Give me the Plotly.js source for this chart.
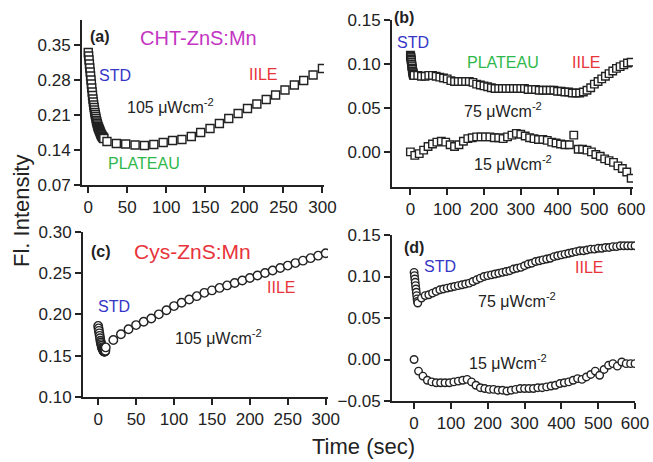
<!DOCTYPE html>
<html>
<head>
<meta charset="utf-8">
<script src="https://cdn.plot.ly/plotly-3.0.1.min.js"></script>
<style>html,body{margin:0;padding:0;background:#fff;}#chart{width:653px;height:462px;}</style>
</head>
<body>
<div id="chart"></div>
<script>
// Panel (a) CHT-ZnS:Mn, 105 uW/cm2
const tA = [0,0.5,1,1.5,2,2.5,3,3.5,4,4.5,5,5.5,6,6.5,7,7.5,8,8.5,9,9.5,
  10,10.5,11,11.5,12,12.5,13,13.5,14,14.5,15,15.5,16,16.5,17,17.5,18,18.5,19,19.5,20,
  24,36,48,60,72,84,96,108,120,132,144,156,168,180,192,204,216,228,240,252,264,276,288,300];
const vA = [0.335,0.328,0.320,0.312,0.304,0.296,0.288,0.280,0.272,0.264,0.256,0.249,0.242,0.236,0.230,0.225,0.220,0.215,0.211,0.207,
  0.203,0.199,0.196,0.193,0.190,0.187,0.185,0.183,0.181,0.179,0.177,0.175,0.173,0.171,0.170,0.168,0.167,0.166,0.165,0.164,0.163,
  0.157,0.153,0.152,0.150,0.149,0.151,0.155,0.159,0.161,0.167,0.175,0.183,0.193,0.203,0.213,0.223,0.232,0.241,0.250,0.260,0.270,0.279,0.290,0.303];

// Panel (b) CHT-ZnS:Mn, 75 and 15 uW/cm2
const tB75 = [0,0.5,1,1.5,2,2.5,3,3.5,4,4.5,5,5.5,6,6.5,7,7.5,8,8.5,9,9.5,
  10,20,30,40,50,60,70,80,90,100,110,120,130,140,150,160,170,180,190,200,
  210,220,230,240,250,260,270,280,290,300,310,320,330,340,350,360,370,380,390,400,
  410,420,430,440,450,460,470,480,490,500,510,520,530,540,550,560,570,580,590,600];
const vB75 = [0.110,0.109,0.108,0.107,0.105,0.104,0.102,0.100,0.098,0.097,0.095,0.094,0.092,0.091,0.090,0.089,0.088,0.088,0.087,0.087,
  0.087,0.087,0.086,0.086,0.087,0.087,0.086,0.085,0.084,0.083,
  0.081,0.080,0.080,0.080,0.080,0.080,0.079,0.077,0.076,0.075,
  0.074,0.073,0.072,0.072,0.072,0.072,0.072,0.072,0.072,0.072,
  0.072,0.071,0.071,0.071,0.070,0.070,0.070,0.070,0.070,0.069,
  0.069,0.068,0.068,0.067,0.067,0.067,0.068,0.070,0.073,0.077,
  0.080,0.083,0.086,0.089,0.092,0.095,0.097,0.099,0.101,0.102];
const tB15 = [0,12,24,36,48,60,72,84,96,108,120,132,144,156,168,180,192,204,216,228,
  240,252,264,276,288,300,312,324,336,348,360,372,384,396,408,420,432,444,456,468,
  480,492,504,516,528,540,552,564,576,588,600];
const vB15 = [0.000,-0.004,-0.002,0.002,0.006,0.009,0.011,0.012,0.011,0.008,
  0.006,0.008,0.012,0.015,0.016,0.017,0.017,0.017,0.017,0.016,
  0.016,0.015,0.017,0.019,0.021,0.020,0.018,0.016,0.015,0.014,
  0.014,0.013,0.011,0.010,0.009,0.008,0.008,0.019,0.003,0.003,
  0.002,0.000,-0.003,-0.005,-0.008,-0.010,-0.012,-0.016,-0.019,-0.023,-0.030];

// Panel (c) Cys-ZnS:Mn, 105 uW/cm2
const tC = [0,0.5,1,1.5,2,2.5,3,3.5,4,4.5,5,5.5,6,6.5,7,7.5,8,8.5,9,9.5,
  10,20,30,40,50,60,70,80,90,100,110,120,130,140,150,160,170,180,190,200,
  210,220,230,240,250,260,270,280,290,300];
const vC = [0.186,0.183,0.180,0.177,0.174,0.171,0.168,0.166,0.164,0.162,0.160,0.159,0.158,0.157,0.156,0.155,0.155,0.155,0.155,0.156,
  0.160,0.169,0.176,0.182,0.187,0.191,0.195,0.200,0.205,0.210,
  0.214,0.218,0.222,0.226,0.229,0.232,0.235,0.238,0.241,0.244,
  0.247,0.250,0.253,0.256,0.259,0.262,0.265,0.268,0.271,0.274];

// Panel (d) Cys-ZnS:Mn, 75 and 15 uW/cm2
const tD75 = [0,1,2,3,4,5,6,7,8,9,
  10,20,30,40,50,60,70,80,90,100,110,120,130,140,150,160,170,180,190,200,
  210,220,230,240,250,260,270,280,290,300,310,320,330,340,350,360,370,380,390,400,
  410,420,430,440,450,460,470,480,490,500,510,520,530,540,550,560,570,580,590,600];
const vD75 = [0.105,0.101,0.097,0.093,0.089,0.085,0.081,0.077,0.073,0.070,
  0.068,0.074,0.077,0.078,0.080,0.082,0.084,0.085,0.086,0.087,
  0.088,0.089,0.090,0.091,0.092,0.094,0.096,0.098,0.100,0.101,
  0.102,0.103,0.104,0.105,0.106,0.107,0.109,0.110,0.111,0.113,
  0.115,0.116,0.118,0.119,0.120,0.121,0.122,0.124,0.125,0.126,
  0.127,0.128,0.129,0.130,0.131,0.131,0.132,0.133,0.133,0.134,
  0.134,0.135,0.135,0.136,0.136,0.137,0.137,0.137,0.137,0.137];
const tD15 = [0,12,24,36,48,60,72,84,96,108,120,132,144,156,168,180,192,204,216,228,
  240,252,264,276,288,300,312,324,336,348,360,372,384,396,408,420,432,444,456,468,
  480,492,504,516,528,540,552,564,576,588,600];
const vD15 = [0.000,-0.014,-0.020,-0.025,-0.027,-0.028,-0.028,-0.028,-0.028,-0.027,
  -0.026,-0.025,-0.024,-0.027,-0.031,-0.034,-0.035,-0.036,-0.036,-0.037,
  -0.037,-0.038,-0.037,-0.036,-0.035,-0.035,-0.035,-0.035,-0.034,-0.034,
  -0.033,-0.032,-0.031,-0.029,-0.028,-0.027,-0.025,-0.023,-0.024,-0.021,
  -0.018,-0.014,-0.019,-0.012,-0.007,-0.005,-0.008,-0.003,-0.005,-0.005,-0.005];

const W = 653, H = 462;
const INK = '#222';
const FONT = 'Liberation Sans, Arial, sans-serif';

function mk(sym, size) {
  return {symbol: sym, size: size, color: '#fff', line: {color: INK, width: 1.4}};
}
const traces = [
  {x: tA, y: vA, xaxis: 'x', yaxis: 'y', mode: 'markers', marker: mk('square', 8)},
  {x: tB75, y: vB75, xaxis: 'x2', yaxis: 'y2', mode: 'markers', marker: mk('square', 7.5)},
  {x: tB15, y: vB15, xaxis: 'x2', yaxis: 'y2', mode: 'markers', marker: mk('square', 7.5)},
  {x: tC, y: vC, xaxis: 'x3', yaxis: 'y3', mode: 'markers', marker: mk('circle', 8.5)},
  {x: tD75, y: vD75, xaxis: 'x4', yaxis: 'y4', mode: 'markers', marker: mk('circle', 7.5)},
  {x: tD15, y: vD15, xaxis: 'x4', yaxis: 'y4', mode: 'markers', marker: mk('circle', 7.5)}
];

function ax(px0, px1, range, dtick, fmt, anchor, vertical) {
  const dom = vertical ? [1 - px1 / H, 1 - px0 / H] : [px0 / W, px1 / W];
  return {
    domain: dom, range: range, tickmode: 'linear', tick0: 0, dtick: dtick,
    anchor: anchor, showline: true, linecolor: INK, linewidth: 2,
    ticks: 'outside', ticklen: 6, tickwidth: 2, tickcolor: INK,
    showgrid: false, zeroline: false, tickformat: fmt, fixedrange: true,
    tickfont: {family: FONT, size: 17, color: INK}
  };
}

function ann(text, px, py, color, size, opts) {
  return Object.assign({
    text: text, x: px / W, y: 1 - py / H, xref: 'paper', yref: 'paper',
    xanchor: 'center', yanchor: 'middle', showarrow: false,
    font: {family: FONT, size: size, color: color}
  }, opts || {});
}
const BLUE = '#3535c8', RED = '#e8333a', GREEN = '#2eb84a', MAG = '#c336c3';
const UW = ' \u03bcWcm<sup>-2</sup>';

const layout = {
  width: W, height: H, margin: {l: 0, r: 0, t: 0, b: 0},
  paper_bgcolor: '#fff', plot_bgcolor: 'rgba(0,0,0,0)', showlegend: false,
  xaxis: ax(82, 324, [-8, 302], 50, 'd', 'y', false),
  yaxis: ax(20, 185, [0.07, 0.40], 0.07, '.2f', 'x', true),
  xaxis2: ax(392, 633, [-50, 605], 100, 'd', 'y2', false),
  yaxis2: ax(20, 187, [-0.04, 0.15], 0.05, '.2f', 'x2', true),
  xaxis3: ax(83, 328, [-20, 303], 50, 'd', 'y3', false),
  yaxis3: ax(231.7, 397, [0.10, 0.30], 0.05, '.2f', 'x3', true),
  xaxis4: ax(392, 635, [-60, 600], 100, 'd', 'y4', false),
  yaxis4: ax(235, 401, [-0.05, 0.15], 0.05, '.2f', 'x4', true),
  annotations: [
    ann('<b>(a)</b>', 100, 36, INK, 16),
    ann('CHT-ZnS:Mn', 198, 38, MAG, 20),
    ann('STD', 115, 75, BLUE, 16),
    ann('IILE', 263, 74, RED, 16),
    ann('105' + UW, 170, 106, INK, 16),
    ann('PLATEAU', 144, 163, GREEN, 16),

    ann('<b>(b)</b>', 404, 17, INK, 16),
    ann('STD', 413, 42, BLUE, 16),
    ann('PLATEAU', 503, 62, GREEN, 16),
    ann('IILE', 586, 62, RED, 16),
    ann('75' + UW, 503, 110, INK, 16),
    ann('15' + UW, 513, 163, INK, 16),

    ann('<b>(c)</b>', 101, 252, INK, 16),
    ann('Cys-ZnS:Mn', 193, 251, RED, 21),
    ann('STD', 114, 306, BLUE, 16),
    ann('IILE', 281, 287, RED, 16),
    ann('105' + UW, 218, 337, INK, 16),

    ann('<b>(d)</b>', 414, 247, INK, 16),
    ann('STD', 440, 266, BLUE, 16),
    ann('IILE', 589, 267, RED, 16),
    ann('75' + UW, 517, 300, INK, 16),
    ann('15' + UW, 508, 362, INK, 16),

    ann('Fl. Intensity', 21, 211, INK, 22, {textangle: -90}),
    ann('Time (sec)', 363, 446, INK, 22)
  ]
};

Plotly.newPlot('chart', traces, layout, {staticPlot: true, displayModeBar: false});
</script>
</body>
</html>
